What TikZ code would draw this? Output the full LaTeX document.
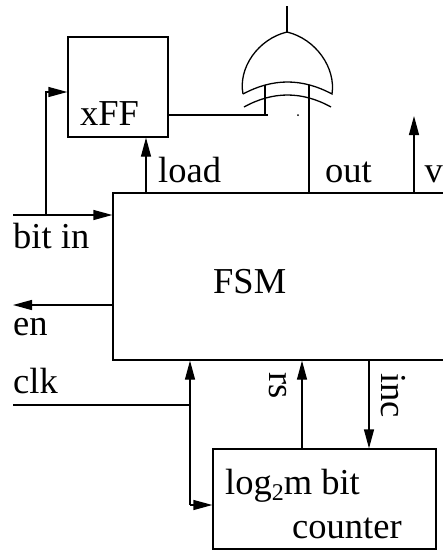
\documentclass[tikz,border=0pt]{standalone}
\usepackage{fontspec}
\setmainfont{Liberation Serif}
\usetikzlibrary{arrows, arrows.meta}
\usetikzlibrary{calc}
\tikzset{
  wire/.style={line width=1.3pt, -{Triangle[length=19pt, width=10pt]}},
  plain/.style={line width=1.3pt},
  blockbox/.style={draw, line width=1.3pt, rectangle, inner sep=0pt},
  lab/.style={anchor=base west, inner sep=0pt, font=\fontsize{36.5}{40}\selectfont},
}
\begin{document}
\begin{tikzpicture}[x=1pt, y=-1pt]
      \useasboundingbox (0,0) rectangle (443,550);

      \node[blockbox, minimum width=100pt, minimum height=100pt] (xff) at (118, 87) {};
      \node[blockbox, minimum width=347pt, minimum height=167pt] (fsm) at (286.5, 276.5) {};
      \node[blockbox, minimum width=223pt, minimum height=100pt] (cnt) at (324.5, 499) {};

      \node[lab] (xfflab) at (80, 125) {xFF};
      \node[lab] (fsmlab) at (213, 293) {FSM};
      \node[lab] (loadlab) at (158, 182) {load};
      \node[lab] (outlab) at (325, 182) {out};
      \node[lab] (vlab) at (424.5, 182) {v};
      \node[lab] (bitlab) at (13, 248) {bit in};
      \node[lab] (enlab) at (13, 335) {en};
      \node[lab] (clklab) at (13, 393) {clk};
      \node[lab, rotate=-90] (rslab) at (269, 372) {rs};
      \node[lab, rotate=-90] (inclab) at (381, 373) {inc};
      \node[lab] (loglab) at (225, 494) {log\raisebox{-6pt}{\fontsize{24}{26}\selectfont 2}m bit};
      \node[lab] (cntlab) at (292, 538) {counter};

      % xor gate
      \coordinate (gl) at (243, 94);
      \coordinate (gr) at (332, 94);
      \coordinate (gt) at (287, 32);
      \coordinate (gout) at (287, 6);
      \coordinate (ina) at (265, 115);
      \coordinate (inb) at (309, 115);
      \draw[plain] (gl) .. controls (238, 68) and (258, 39) .. (gt)
        .. controls (316, 39) and (336, 68) .. (gr)
        .. controls (302, 78) and (273, 78) .. (gl);
      \draw[plain] (244, 107) .. controls (273, 91) and (302, 91) .. (331, 107);
      \draw[plain] (gt) -- (gout);
      \draw[plain] (ina) -- (265, 85);
      \draw[plain] (inb) -- (309, 85);
      \node[circle, fill, inner sep=0pt, minimum size=2pt] (dot) at (298, 115) {};

      \coordinate (bitstart) at (13, 215);
      \coordinate (bitsplit) at (46, 215);
      \coordinate (enend) at (13, 305);
      \coordinate (clkstart) at (13, 405);
      \coordinate (clksplit) at (190, 405);
      \coordinate (clkturn) at (190, 505);
      \coordinate (vend) at (414, 116);

      \draw[plain] (xff.east |- ina) -- (268, 115);
      \draw[plain] (fsm.north -| inb) -- (inb);
      \draw[wire] (fsm.north -| 146, 0) -- (xff.south -| 146, 0);
      \draw[wire] (fsm.north -| vend) -- (vend);
      \draw[wire] (bitstart) -- (fsm.west |- bitstart);
      \draw[wire] (bitsplit) |- (xff.west |- 0, 92);
      \draw[wire] (fsm.west |- enend) -- (enend);
      \draw[plain] (clkstart) -- (clksplit);
      \draw[wire] (clksplit) -- (fsm.south -| clksplit);
      \draw[plain] (clksplit) -- (clkturn);
      \draw[wire] (clkturn) -- (cnt.west |- clkturn);
      \draw[wire] (cnt.north -| 302, 0) -- (fsm.south -| 302, 0);
      \draw[wire] (fsm.south -| 369, 0) -- (cnt.north -| 369, 0);
    \end{tikzpicture}
\end{document}
